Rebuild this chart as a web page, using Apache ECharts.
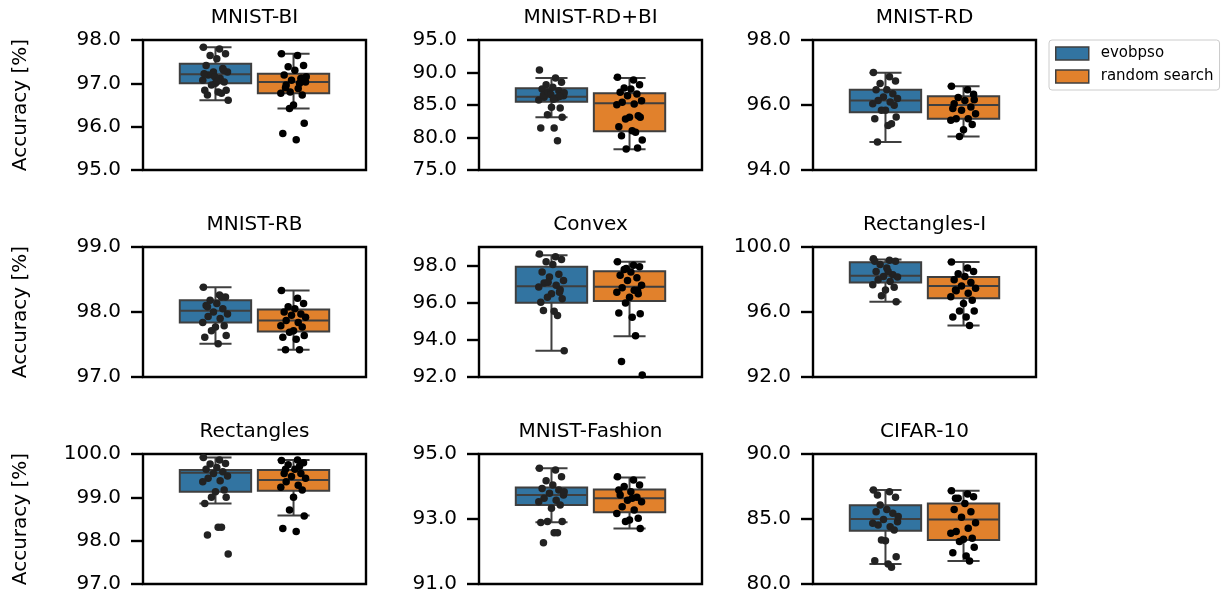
<!DOCTYPE html>
<html>
<head>
<meta charset="utf-8">
<script src="https://cdn.jsdelivr.net/npm/echarts@6/dist/echarts.min.js"></script>
<style>
html,body{margin:0;padding:0;background:#fff;}
#chart{width:1228px;height:596px;}
</style>
</head>
<body>
<div id="chart"></div>
<script>
// ---------------- data ----------------
const DATASETS = ['MNIST-BI', 'MNIST-RD+BI', 'MNIST-RD', 'MNIST-RB', 'Convex', 'Rectangles-I', 'Rectangles', 'MNIST-Fashion', 'CIFAR-10'];
const METHODS = ['evobpso', 'random search'];

const Y_MIN = [95, 75, 94, 97, 92, 92, 97, 91, 80];
const Y_MAX = [98, 95, 98, 99, 99, 100, 100, 95, 90];
const Y_TICKS = [
  [95, 96, 97, 98],
  [75, 80, 85, 90, 95],
  [94, 96, 98],
  [97, 98, 99],
  [92, 94, 96, 98],
  [92, 96, 100],
  [97, 98, 99, 100],
  [91, 93, 95],
  [80, 85, 90]
];

// box statistics: [lower whisker, Q1, median, Q3, upper whisker]
const BOX_EVOBPSO = [
  [96.61, 97.00, 97.21, 97.45, 97.83],
  [83.10, 85.51, 86.28, 87.56, 89.15],
  [94.86, 95.78, 96.14, 96.47, 96.99],
  [97.51, 97.84, 98.02, 98.18, 98.38],
  [93.41, 96.00, 96.88, 97.93, 98.56],
  [96.63, 97.81, 98.23, 99.06, 99.23],
  [98.86, 99.13, 99.57, 99.63, 99.92],
  [92.90, 93.43, 93.74, 93.97, 94.56],
  [81.54, 84.10, 85.00, 86.05, 87.23]
];
const BOX_RANDOM = [
  [96.42, 96.77, 97.03, 97.22, 97.68],
  [78.18, 80.95, 85.26, 86.80, 89.15],
  [95.03, 95.58, 96.00, 96.27, 96.58],
  [97.42, 97.70, 97.87, 98.04, 98.33],
  [94.19, 96.09, 96.86, 97.70, 98.20],
  [95.17, 96.85, 97.60, 98.15, 99.08],
  [98.58, 99.15, 99.40, 99.63, 99.86],
  [92.71, 93.21, 93.64, 93.91, 94.28],
  [81.77, 83.38, 84.97, 86.20, 87.18]
];

// individual runs (accuracy %)
const RUNS_EVOBPSO = [
  [97.83,97.79,97.68,97.64,97.57,97.41,97.34,97.26,97.26,97.19,97.11,97.07,97.03,97.00,96.96,96.84,96.84,96.80,96.77,96.73,96.61,97.20,97.30,97.15,97.05,97.22],
  [90.38,89.15,88.49,88.13,87.72,87.46,87.20,86.80,86.44,86.18,86.08,85.77,84.54,84.64,83.51,83.10,81.46,81.46,79.51,86.50,86.90,87.00,86.30,86.60,85.90],
  [97.00,96.87,96.74,96.66,96.47,96.47,96.35,96.25,96.20,96.14,96.09,96.04,95.99,95.84,95.84,95.63,95.58,95.37,95.42,94.86],
  [98.38,98.26,98.23,98.18,98.13,98.10,98.05,98.00,97.97,97.93,97.90,97.84,97.79,97.77,97.71,97.64,97.61,97.51,98.23,98.08],
  [98.62,98.47,98.33,98.20,98.06,97.66,97.53,97.39,97.20,97.06,96.94,96.85,96.70,96.48,96.30,96.21,96.03,95.54,95.31,95.58,93.41,97.10,96.57],
  [99.27,99.19,99.13,98.92,98.71,98.50,98.29,98.19,98.15,97.98,97.88,97.67,97.52,97.35,97.00,96.63,99.13,98.50],
  [99.92,99.86,99.78,99.77,99.69,99.65,99.59,99.55,99.49,99.44,99.38,99.36,99.17,99.13,99.00,99.00,98.86,98.31,98.31,98.13,97.69],
  [94.56,94.51,94.30,94.18,94.05,93.94,93.89,93.79,93.74,93.64,93.58,93.53,93.43,93.33,92.92,92.92,92.89,92.58,92.58,92.27,93.84],
  [87.23,87.10,86.67,86.08,85.74,85.56,85.44,84.97,84.79,84.54,84.41,84.67,84.15,83.33,83.38,82.10,81.79,81.54,81.28,86.85,85.20]
];
const RUNS_RANDOM = [
  [97.68,97.64,97.41,97.38,97.30,97.19,97.11,97.07,97.03,96.96,96.88,96.77,96.73,96.50,96.42,96.08,95.84,95.70,97.00,96.90,97.15,96.80,97.12],
  [89.26,88.85,88.13,87.62,87.46,86.95,86.69,86.44,85.67,85.41,85.15,85.05,83.36,83.10,82.85,83.10,81.67,81.05,80.79,80.28,79.62,78.23,78.38],
  [96.58,96.47,96.33,96.23,96.14,96.04,95.94,95.84,95.73,95.58,95.58,95.53,95.40,95.24,95.03,96.16,95.89],
  [98.33,98.21,98.13,98.08,98.05,98.00,97.97,97.95,97.92,97.87,97.84,97.79,97.77,97.71,97.69,97.64,97.61,97.58,97.42,97.42],
  [98.20,98.02,97.93,97.79,97.66,97.48,97.35,97.20,96.94,96.81,96.67,96.57,96.48,96.30,95.98,95.40,95.44,95.22,94.22,92.83,92.11,97.84,96.67],
  [99.08,98.71,98.50,98.35,98.19,97.98,97.81,97.60,97.46,97.31,97.15,96.94,96.73,96.52,96.06,96.06,95.69,95.69,95.17,97.35],
  [99.85,99.86,99.80,99.75,99.65,99.55,99.55,99.48,99.44,99.36,99.28,99.23,99.17,99.00,98.71,98.57,98.28,98.21,99.72,99.65],
  [94.30,94.20,94.05,94.00,93.84,93.74,93.67,93.58,93.53,93.38,93.28,93.17,93.02,92.97,92.92,92.71,93.89,93.64],
  [87.18,86.92,86.72,86.59,86.20,85.74,85.56,85.13,84.72,84.03,84.28,83.90,83.51,83.44,83.26,82.82,82.41,82.15,81.77,86.59]
];

// ---------------- layout / style ----------------
const COL_LEFT = [143, 479, 813];
const ROW_TOP = [40, 247, 454];
const PLOT_W = 223, PLOT_H = 130;
const HUE_POS = [0.325, 0.675];      // box centres inside each panel (0..1)
const BOX_HALF = 0.16, CAP_HALF = 0.072;
const JITTER_AMP = 0.06;
const JITTER = [-0.9,0.3,0.75,-0.4,0.1,-0.7,0.55,-0.15,0.9,-0.55,0.35,-0.95,0.65,0.0,-0.3,0.8,-0.8,0.2,0.45,-0.6,0.95,-0.25,0.6,-0.05,0.15,-0.85];
const FILL = ['#3274a1', '#e1812c'];
const DOT = ['#222222', '#000000'];
const EDGE = '#3f3f3f';
const FONT = 'DejaVu Sans';

function renderBox(params, api) {
  const x = api.value(0);
  const lo = api.coord([x, api.value(1)]);
  const q1 = api.coord([x, api.value(2)]);
  const md = api.coord([x, api.value(3)]);
  const q3 = api.coord([x, api.value(4)]);
  const hi = api.coord([x, api.value(5)]);
  const hw = api.size([BOX_HALF, 0])[0];
  const cw = api.size([CAP_HALF, 0])[0];
  const ls = {stroke: EDGE, lineWidth: 2, fill: null};
  return {
    type: 'group',
    children: [
      {type: 'line', shape: {x1: lo[0], y1: lo[1], x2: q1[0], y2: q1[1]}, style: ls},
      {type: 'line', shape: {x1: q3[0], y1: q3[1], x2: hi[0], y2: hi[1]}, style: ls},
      {type: 'line', shape: {x1: lo[0] - cw, y1: lo[1], x2: lo[0] + cw, y2: lo[1]}, style: ls},
      {type: 'line', shape: {x1: hi[0] - cw, y1: hi[1], x2: hi[0] + cw, y2: hi[1]}, style: ls},
      {type: 'rect', shape: {x: q1[0] - hw, y: q3[1], width: 2 * hw, height: q1[1] - q3[1]},
        style: {fill: api.visual('color'), stroke: EDGE, lineWidth: 2}},
      {type: 'line', shape: {x1: md[0] - hw, y1: md[1], x2: md[0] + hw, y2: md[1]}, style: ls}
    ]
  };
}

const grids = [], xAxes = [], yAxes = [], titles = [], series = [];
DATASETS.forEach((name, i) => {
  const r = Math.floor(i / 3), c = i % 3;
  grids.push({left: COL_LEFT[c], top: ROW_TOP[r], width: PLOT_W, height: PLOT_H,
    show: true, borderColor: '#000', borderWidth: 2.4, backgroundColor: 'transparent'});
  xAxes.push({gridIndex: i, type: 'value', min: 0, max: 1, show: false});
  yAxes.push({
    gridIndex: i, type: 'value', min: Y_MIN[i], max: Y_MAX[i],
    axisLine: {show: false},
    splitLine: {show: false},
    axisTick: {show: true, length: 12, customValues: Y_TICKS[i], lineStyle: {color: '#000', width: 2.4}},
    axisLabel: {customValues: Y_TICKS[i], formatter: v => Number(v).toFixed(1),
      fontSize: 20, fontFamily: FONT, color: '#000', margin: 22},
    name: c === 0 ? 'Accuracy [%]' : '',
    nameLocation: 'middle', nameGap: 112,
    nameTextStyle: {fontSize: 20, fontFamily: FONT, color: '#000'}
  });
  titles.push({text: name, left: COL_LEFT[c] + PLOT_W / 2, top: ROW_TOP[r] - 32, textAlign: 'center', padding: 0,
    textStyle: {fontSize: 20, fontWeight: 'normal', fontFamily: FONT, color: '#000'}});
  const boxes = [BOX_EVOBPSO[i], BOX_RANDOM[i]];
  const runs = [RUNS_EVOBPSO[i], RUNS_RANDOM[i]];
  METHODS.forEach((m, h) => {
    series.push({
      name: m, type: 'custom', xAxisIndex: i, yAxisIndex: i,
      itemStyle: {color: FILL[h]},
      renderItem: renderBox,
      encode: {x: 0, y: [1, 2, 3, 4, 5]},
      data: [[HUE_POS[h]].concat(boxes[h])],
      z: 2, silent: true
    });
  });
  METHODS.forEach((m, h) => {
    series.push({
      type: 'scatter', xAxisIndex: i, yAxisIndex: i,
      symbolSize: 7.5,
      itemStyle: {color: DOT[h], opacity: 1},
      data: runs[h].map((v, j) => [HUE_POS[h] + JITTER[j % JITTER.length] * JITTER_AMP, v]),
      z: 3, silent: true
    });
  });
});

const chart = echarts.init(document.getElementById('chart'), null, {renderer: 'canvas'});
chart.setOption({
  animation: false,
  backgroundColor: '#fff',
  title: titles,
  grid: grids,
  xAxis: xAxes,
  yAxis: yAxes,
  legend: {
    orient: 'vertical', left: 1049, top: 40,
    data: [
      {name: 'evobpso', icon: 'rect', itemStyle: {color: FILL[0], borderColor: EDGE, borderWidth: 1.5}},
      {name: 'random search', icon: 'rect', itemStyle: {color: FILL[1], borderColor: EDGE, borderWidth: 1.5}}
    ],
    itemWidth: 33, itemHeight: 13, itemGap: 6,
    padding: [5, 6, 5, 6],
    borderColor: '#cccccc', borderWidth: 1, borderRadius: 3,
    textStyle: {fontSize: 15, fontFamily: FONT, color: '#000', lineHeight: 17, padding: [0, 0, 0, 7]}
  },
  series: series
});
</script>
</body>
</html>
